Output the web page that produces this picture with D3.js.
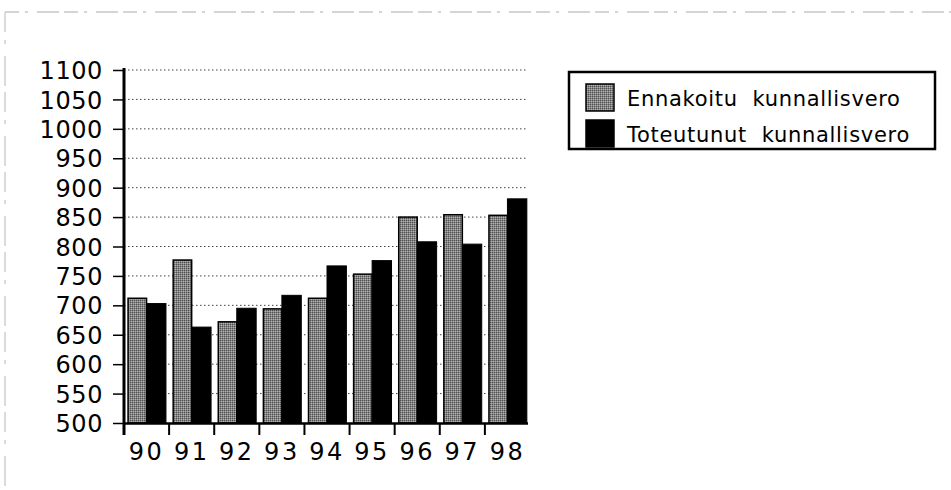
<!DOCTYPE html>
<html>
<head>
<meta charset="utf-8">
<script src="https://cdn.jsdelivr.net/npm/d3@7/dist/d3.min.js"></script>
<style>
  html, body { margin: 0; padding: 0; background: #fff; }
  svg { display: block; }
  text { font-family: "DejaVu Sans", "Liberation Sans", sans-serif; fill: #000; }
</style>
</head>
<body>
<svg id="chart" width="951" height="490"></svg>
<script>
// ---- data ----
const years = ["90", "91", "92", "93", "94", "95", "96", "97", "98"];
const ennakoitu = [712, 777, 672, 694, 712, 753, 850, 854, 853];
const toteutunut = [703, 663, 695, 717, 767, 776, 808, 804, 881];
const yTicks = [500, 550, 600, 650, 700, 750, 800, 850, 900, 950, 1000, 1050, 1100];
const seriesNames = ["Ennakoitu  kunnallisvero", "Toteutunut  kunnallisvero"];

const svg = d3.select("#chart");

// dithered grey pattern
const defs = svg.append("defs");
const pat = defs.append("pattern").attr("id", "dither")
  .attr("width", 2).attr("height", 2).attr("patternUnits", "userSpaceOnUse");
pat.append("rect").attr("width", 2).attr("height", 2).attr("fill", "#858585");
pat.append("rect").attr("width", 1).attr("height", 1).attr("fill", "#505050");
pat.append("rect").attr("x", 1).attr("y", 1).attr("width", 1).attr("height", 1).attr("fill", "#b0b0b0");

// faint scan-frame lines
svg.append("line").attr("x1", 5).attr("x2", 951).attr("y1", 12).attr("y2", 12)
  .attr("stroke", "#c8c8c8").attr("stroke-width", 1.5).attr("stroke-dasharray", "14,6,3,9,22,5");
svg.append("line").attr("x1", 5).attr("x2", 5).attr("y1", 12).attr("y2", 490)
  .attr("stroke", "#d0d0d0").attr("stroke-width", 1.5).attr("stroke-dasharray", "20,8,4,12,30,6");

const x = d3.scaleBand().domain(years).range([124, 530]).padding(0);
const y = d3.scaleLinear().domain([500, 1100]).range([423, 70]);

// gridlines
svg.append("g").selectAll("line").data(yTicks.filter(d => d > 500)).join("line")
  .attr("x1", 124).attr("x2", 528)
  .attr("y1", d => y(d)).attr("y2", d => y(d))
  .attr("stroke", "#444").attr("stroke-width", 1).attr("stroke-dasharray", "1.5,2.5");

const bw = x.bandwidth();
// bars
const g = svg.append("g");
g.selectAll("rect.e").data(years).join("rect").attr("class", "e")
  .attr("x", (d) => x(d) + bw * 0.09)
  .attr("width", bw * 0.41)
  .attr("y", (d, i) => y(ennakoitu[i]))
  .attr("height", (d, i) => y(500) - y(ennakoitu[i]))
  .attr("fill", "url(#dither)").attr("stroke", "#000").attr("stroke-width", 1.5);
g.selectAll("rect.t").data(years).join("rect").attr("class", "t")
  .attr("x", (d) => x(d) + bw * 0.5)
  .attr("width", bw * 0.43)
  .attr("y", (d, i) => y(toteutunut[i]))
  .attr("height", (d, i) => y(500) - y(toteutunut[i]))
  .attr("fill", "#000").attr("stroke", "#000").attr("stroke-width", 1);

// y axis
const yAxis = d3.axisLeft(y).tickValues(yTicks).tickSize(11).tickPadding(10).tickFormat(d3.format("d"));
const ya = svg.append("g").attr("transform", "translate(124,0)").call(yAxis);
ya.select(".domain").remove();
ya.selectAll(".tick line").attr("stroke", "#000").attr("stroke-width", 1.5);
ya.selectAll(".tick text").attr("font-family", "DejaVu Sans").attr("font-size", 24)
  .attr("letter-spacing", 0.6).attr("dy", "0.36em").attr("x", -21);
svg.append("line").attr("x1", 124).attr("x2", 124).attr("y1", 68).attr("y2", 435)
  .attr("stroke", "#000").attr("stroke-width", 3);

// x axis
const xa = svg.append("g").attr("transform", "translate(0,423)")
  .call(d3.axisBottom(x).tickSize(0).tickPadding(0));
xa.select(".domain").remove();
xa.selectAll(".tick line").remove();
xa.selectAll(".tick text").attr("font-family", "DejaVu Sans").attr("font-size", 24)
  .attr("letter-spacing", 2.5).attr("dy", 0).attr("y", 37);
svg.append("line").attr("x1", 124).attr("x2", 528).attr("y1", 423.5).attr("y2", 423.5)
  .attr("stroke", "#000").attr("stroke-width", 2.5);
svg.append("g").selectAll("line").data(years).join("line")
  .attr("x1", d => x(d)).attr("x2", d => x(d))
  .attr("y1", 423).attr("y2", 435)
  .attr("stroke", "#000").attr("stroke-width", 2);

// legend
const leg = svg.append("g");
leg.append("rect").attr("x", 569).attr("y", 72).attr("width", 366).attr("height", 77)
  .attr("fill", "#fff").attr("stroke", "#000").attr("stroke-width", 2.5);
const rows = leg.selectAll("g.row").data(seriesNames).join("g").attr("class", "row")
  .attr("transform", (d, i) => `translate(0,${i * 36})`);
rows.append("rect").attr("x", 586).attr("y", 84).attr("width", 28).attr("height", 27)
  .attr("fill", (d, i) => i === 0 ? "url(#dither)" : "#000")
  .attr("stroke", "#000").attr("stroke-width", 1.5);
rows.append("text").attr("x", 627).attr("y", 106)
  .attr("font-size", 21).attr("letter-spacing", 0.7)
  .style("white-space", "pre")
  .text(d => d);
</script>
</body>
</html>
